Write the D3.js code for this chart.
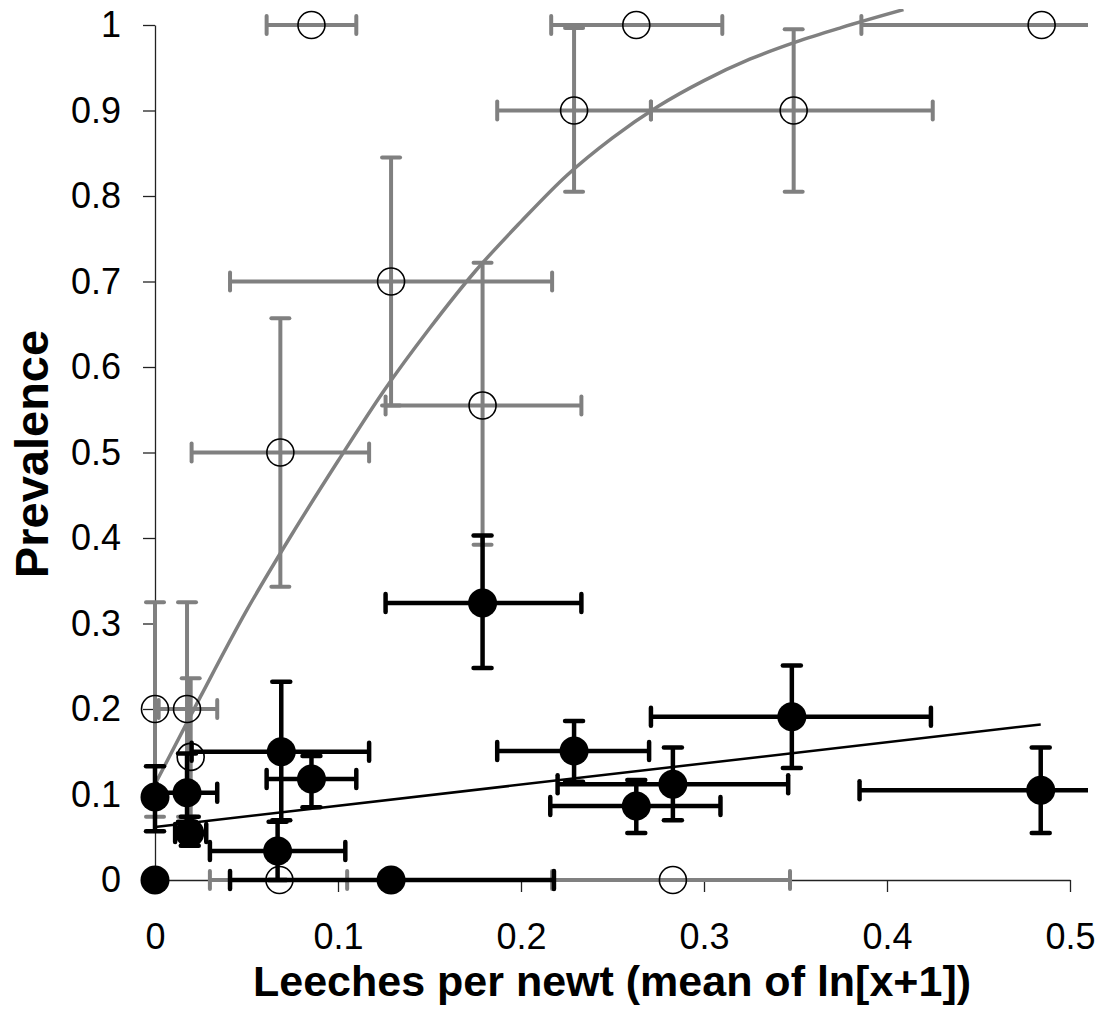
<!DOCTYPE html>
<html><head><meta charset="utf-8">
<script src="https://cdn.jsdelivr.net/npm/d3@7"></script>
<style>body{margin:0;background:#fff}svg{display:block}</style>
</head><body>
<svg id="chart" width="1104" height="1009"></svg>
<script>
// ---- Data ----
// Open (gray) series: prevalence with gray error bars
const openX    = [0,     0.0175, 0.0195, 0.0685, 0.129, 0.179, 0.0855, 0.263,  0.229, 0.349, 0.4845, 0.068, 0.283];
const openY    = [0.2,   0.2,    0.144,  0.5,    0.7,   0.555, 1.0,    1.0,    0.9,   0.9,   1.0,    0,     0];
const openXlo  = [null,  0.002,  null,   0.02,   0.041, 0.126, 0.061,  0.2165, 0.187, 0.271, 0.386,  0.03,  0.217];
const openXhi  = [null,  0.034,  null,   0.117,  0.217, 0.233, 0.11,   0.31,   0.271, 0.425, 0.583,  0.105, 0.347];
const openYlo  = [0.074, 0.074,  0.052,  0.343,  0.555, 0.392, null,   null,   0.805, 0.805, null,   null,  null];
const openYhi  = [0.325, 0.325,  0.236,  0.657,  0.845, 0.722, null,   null,   0.9965,0.995, null,   null,  null];

// Filled (black) series with black error bars
const fillX    = [0,     0.0175, 0.019,  0.069,  0.0855, 0.067, 0,    0.129, 0.179, 0.229, 0.263,  0.283, 0.348, 0.484];
const fillY    = [0.097, 0.102,  0.055,  0.15,   0.118,  0.034, 0,    0,     0.324, 0.151, 0.0865, 0.112, 0.191, 0.105];
const fillXlo  = [null,  0.001,  0.011,  0.02,   0.061,  0.03,  null, 0.041, 0.126, 0.187, 0.216,  0.22,  0.271, 0.385];
const fillXhi  = [null,  0.034,  0.028,  0.117,  0.11,   0.104, null, 0.218, 0.233, 0.27,  0.309,  0.346, 0.424, 0.583];
const fillYlo  = [0.057, 0.068,  0.04,   0.07,   0.085,  0.0,   null, null,  0.248, 0.115, 0.055,  0.07,  0.131, 0.055];
const fillYhi  = [0.133, 0.148,  0.074,  0.232,  0.145,  0.068, null, null,  0.403, 0.186, 0.117,  0.155, 0.251, 0.155];

// Gray fitted curve
const curveX = [0,     0.025, 0.05,  0.075, 0.1,  0.125, 0.15,  0.175, 0.2,  0.225, 0.25,  0.275, 0.3,   0.325, 0.35, 0.375, 0.409];
const curveY = [0.112, 0.215, 0.315, 0.405, 0.49, 0.572, 0.645, 0.712, 0.77, 0.824, 0.868, 0.905, 0.935, 0.96,  0.98, 0.997, 1.018];

// Black linear trend line
const lineX = [0,     0.484];
const lineY = [0.062, 0.182];

// Axes
const xTicks = [0, 0.1, 0.2, 0.3, 0.4, 0.5];
const xTickLabels = ["0", "0.1", "0.2", "0.3", "0.4", "0.5"];
const yTicks = [0, 0.1, 0.2, 0.3, 0.4, 0.5, 0.6, 0.7, 0.8, 0.9, 1];
const yTickLabels = ["0", "0.1", "0.2", "0.3", "0.4", "0.5", "0.6", "0.7", "0.8", "0.9", "1"];
const xTitle = "Leeches per newt (mean of ln[x+1])";
const yTitle = "Prevalence";

// ---- Drawing ----
const svg = d3.select("#chart");
svg.append("rect").attr("width", 1104).attr("height", 1009).attr("fill", "#fff");

const x = d3.scaleLinear().domain([0, 0.5]).range([155, 1070]);
const y = d3.scaleLinear().domain([0, 1]).range([880, 25]);

svg.append("defs").append("clipPath").attr("id", "clip")
  .append("rect").attr("x", 0).attr("y", 9).attr("width", 1088).attr("height", 1000);

// axes
const font = "'Liberation Sans', Arial, Helvetica, sans-serif";
const xAxis = svg.append("g").attr("transform", `translate(0,${y(0)})`)
  .call(d3.axisBottom(x).tickValues(xTicks).tickFormat((d, i) => xTickLabels[i]).tickSize(12).tickSizeOuter(0).tickPadding(31));
const yAxis = svg.append("g").attr("transform", `translate(${x(0)},0)`)
  .call(d3.axisLeft(y).tickValues(yTicks).tickFormat((d, i) => yTickLabels[i]).tickSize(12).tickSizeOuter(0).tickPadding(22));
[xAxis, yAxis].forEach(g => {
  g.select(".domain").attr("stroke", "#222").attr("stroke-width", 1.3);
  g.selectAll(".tick line").attr("stroke", "#222").attr("stroke-width", 1.3);
  g.selectAll(".tick text").attr("font-family", font).attr("font-size", 36).attr("fill", "#000");
});

const plot = svg.append("g").attr("clip-path", "url(#clip)");
const CAP = 9;

function drawBars(g, X, Y, Xlo, Xhi, Ylo, Yhi, color, w) {
  X.forEach((xv, i) => {
    const cx = x(xv), cy = y(Y[i]);
    if (Xlo[i] !== null) {
      g.append("line").attr("x1", x(Xlo[i])).attr("x2", x(Xhi[i])).attr("y1", cy).attr("y2", cy)
        .attr("stroke", color).attr("stroke-width", w);
      [Xlo[i], Xhi[i]].forEach(v => g.append("line").attr("x1", x(v)).attr("x2", x(v))
        .attr("y1", cy - CAP).attr("y2", cy + CAP).attr("stroke", color).attr("stroke-width", w).attr("stroke-linecap", "round"));
    }
    if (Ylo[i] !== null) {
      g.append("line").attr("x1", cx).attr("x2", cx).attr("y1", y(Ylo[i])).attr("y2", y(Yhi[i]))
        .attr("stroke", color).attr("stroke-width", w);
      [Ylo[i], Yhi[i]].forEach(v => g.append("line").attr("x1", cx - CAP).attr("x2", cx + CAP)
        .attr("y1", y(v)).attr("y2", y(v)).attr("stroke", color).attr("stroke-width", w).attr("stroke-linecap", "round"));
    }
  });
}

const gray = "#808080";
const gGray = plot.append("g");
drawBars(gGray, openX, openY, openXlo, openXhi, openYlo, openYhi, gray, 4);

// gray curve
const curvePts = curveX.map((v, i) => [v, curveY[i]]);
plot.append("path").datum(curvePts)
  .attr("d", d3.line().x(d => x(d[0])).y(d => y(d[1])).curve(d3.curveMonotoneX))
  .attr("fill", "none").attr("stroke", gray).attr("stroke-width", 3.5);

// open circles
plot.append("g").selectAll("circle").data(openX).join("circle")
  .attr("cx", d => x(d)).attr("cy", (d, i) => y(openY[i])).attr("r", 13.5)
  .attr("fill", "none").attr("stroke", "#000").attr("stroke-width", 1.6);

// black bars
const gBlack = plot.append("g");
drawBars(gBlack, fillX, fillY, fillXlo, fillXhi, fillYlo, fillYhi, "#000", 4.5);

// filled circles
plot.append("g").selectAll("circle").data(fillX).join("circle")
  .attr("cx", d => x(d)).attr("cy", (d, i) => y(fillY[i])).attr("r", 14.5)
  .attr("fill", "#000");

// black trend line
const linePts = lineX.map((v, i) => [v, lineY[i]]);
plot.append("path").datum(linePts)
  .attr("d", d3.line().x(d => x(d[0])).y(d => y(d[1])))
  .attr("fill", "none").attr("stroke", "#000").attr("stroke-width", 2.5);

// titles
svg.append("text").attr("x", 612).attr("y", 996).attr("text-anchor", "middle")
  .attr("font-family", font).attr("font-weight", "bold").attr("font-size", 43).attr("fill", "#000")
  .text(xTitle);
svg.append("text").attr("transform", "translate(48,454) rotate(-90)").attr("text-anchor", "middle")
  .attr("font-family", font).attr("font-weight", "bold").attr("font-size", 47).attr("fill", "#000")
  .text(yTitle);
</script>
</body></html>
